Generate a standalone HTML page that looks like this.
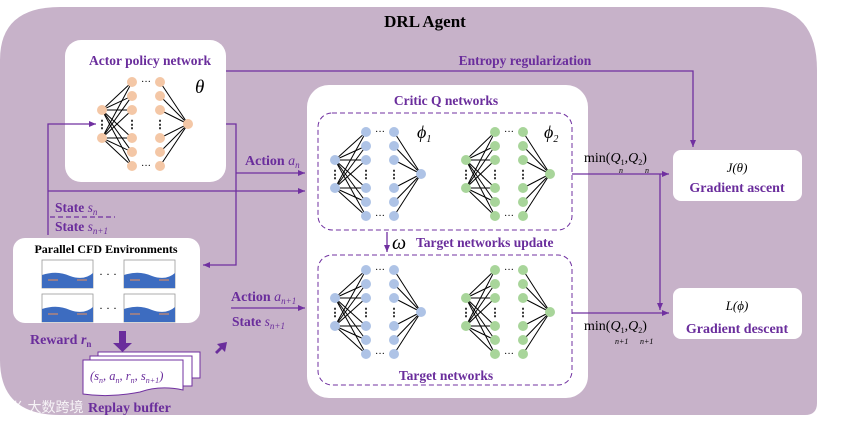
<!DOCTYPE html>
<html><head><meta charset="utf-8"><style>
body{margin:0;background:#fff;width:865px;height:424px;overflow:hidden}
svg{display:block}
text{font-family:"Liberation Serif",serif}
.p{fill:#6a2d9c;font-weight:bold}
</style></head><body>
<svg id="s" width="865" height="424" viewBox="0 0 865 424" xmlns="http://www.w3.org/2000/svg">
<defs><marker id="a" markerWidth="8" markerHeight="8" refX="7" refY="4" orient="auto" markerUnits="userSpaceOnUse"><path d="M0,1 L7,4 L0,7 z" fill="#7030a0"/></marker></defs>
<path d="M60,7 H760 Q817,7 817,70 V403 Q817,415 805,415 H60 Q0,415 0,360 V60 Q0,7 60,7 Z" fill="#c7b2c9"/>
<text x="425" y="27" text-anchor="middle" font-size="17" font-weight="bold">DRL Agent</text>
<rect x="65" y="40" width="161" height="142" rx="16" fill="#fff"/>
<rect x="307" y="85" width="281" height="313" rx="22" fill="#fff"/>
<rect x="318" y="113" width="254" height="117" rx="14" fill="none" stroke="#7030a0" stroke-dasharray="5,3"/>
<rect x="318" y="255" width="254" height="130" rx="14" fill="none" stroke="#7030a0" stroke-dasharray="5,3"/>
<rect x="13" y="238" width="187" height="85" rx="12" fill="#fff"/>
<rect x="673" y="150" width="129" height="51" rx="8" fill="#fff"/>
<rect x="673" y="288" width="129" height="51" rx="8" fill="#fff"/>
<g id="nets"></g>
<g stroke="#7030a0" stroke-width="1.3" fill="none">
<path d="M226,71 H693 V147" marker-end="url(#a)"/>
<path d="M48,235 V124 H96" marker-end="url(#a)"/>
<path d="M226,124 H236 V265 H203" marker-end="url(#a)"/>
<path d="M236,173 H305" marker-end="url(#a)"/>
<path d="M48,191 H305" marker-end="url(#a)"/>
<path d="M50,217 H115" stroke-dasharray="5,3"/>
<path d="M231,308 H305" marker-end="url(#a)"/>
<path d="M572,174 H669" marker-end="url(#a)"/>
<path d="M572,313 H669" marker-end="url(#a)"/>
<path d="M660,174 V310" marker-end="url(#a)"/>
<path d="M387,232 V252" marker-end="url(#a)"/>
</g>
<text x="150" y="65" text-anchor="middle" font-size="13.5" class="p">Actor policy network</text>
<text x="195" y="93" font-size="19" font-style="italic">θ</text>
<text x="525" y="65" text-anchor="middle" font-size="13.5" class="p">Entropy regularization</text>
<text x="446" y="105" text-anchor="middle" font-size="13.5" class="p">Critic Q networks</text>
<text x="417" y="138" font-size="18" font-style="italic">ϕ<tspan font-size="10" dy="4">1</tspan></text>
<text x="544" y="138" font-size="18" font-style="italic">ϕ<tspan font-size="10" dy="4">2</tspan></text>
<text x="392" y="249" font-size="20" font-style="italic">ω</text>
<text x="416" y="247" font-size="13.5" class="p">Target networks update</text>
<text x="446" y="380" text-anchor="middle" font-size="13.5" class="p">Target networks</text>
<text x="245" y="165" font-size="14" class="p">Action <tspan font-style="italic" font-weight="normal">a</tspan><tspan font-size="9" dy="3" font-style="italic" font-weight="normal">n</tspan></text>
<text x="55" y="212" font-size="13.5" class="p">State <tspan font-style="italic" font-weight="normal">s</tspan><tspan font-size="9" dy="3" font-style="italic" font-weight="normal">n</tspan></text>
<text x="55" y="231" font-size="13.5" class="p">State <tspan font-style="italic" font-weight="normal">s</tspan><tspan font-size="9" dy="3" font-style="italic" font-weight="normal">n+1</tspan></text>
<text x="106" y="253" text-anchor="middle" font-size="12" font-weight="bold">Parallel CFD Environments</text>
<text x="231" y="301" font-size="14" class="p">Action <tspan font-style="italic" font-weight="normal">a</tspan><tspan font-size="9" dy="3" font-style="italic" font-weight="normal">n+1</tspan></text>
<text x="232" y="326" font-size="13.5" class="p">State <tspan font-style="italic" font-weight="normal">s</tspan><tspan font-size="9" dy="3" font-style="italic" font-weight="normal">n+1</tspan></text>
<text x="30" y="344" font-size="14" class="p">Reward <tspan font-style="italic">r</tspan><tspan font-size="9" dy="3">n</tspan></text>
<text x="584" y="162" font-size="14">min(<tspan font-style="italic">Q</tspan><tspan font-size="8" dy="3">1</tspan><tspan dy="-3">,</tspan><tspan font-style="italic">Q</tspan><tspan font-size="8" dy="3">2</tspan><tspan dy="-3">)</tspan></text>
<text x="619" y="173" font-size="8" font-style="italic">n</text><text x="645" y="173" font-size="8" font-style="italic">n</text>
<text x="584" y="330" font-size="14">min(<tspan font-style="italic">Q</tspan><tspan font-size="8" dy="3">1</tspan><tspan dy="-3">,</tspan><tspan font-style="italic">Q</tspan><tspan font-size="8" dy="3">2</tspan><tspan dy="-3">)</tspan></text>
<text x="615" y="344" font-size="8" font-style="italic">n+1</text><text x="640" y="344" font-size="8" font-style="italic">n+1</text>
<text x="737" y="172" text-anchor="middle" font-size="13" font-style="italic">J(θ)</text>
<text x="737" y="192" text-anchor="middle" font-size="14" class="p">Gradient ascent</text>
<text x="737" y="310" text-anchor="middle" font-size="13" font-style="italic">L(ϕ)</text>
<text x="737" y="333" text-anchor="middle" font-size="14" class="p">Gradient descent</text>
<g fill="#6a2d9c">
<path d="M119,331 h7 v12 h6 l-9.5,9 l-9.5,-9 h6 z"/>
<path d="M215,352 l5,-5 l-3,-3 l10,-2 l-2,10 l-3,-3 l-5,5 z"/>
</g>
<g stroke="#7030a0" stroke-width="1" fill="#fff">
<path d="M98,352 H200 V378 H98 Z"/>
<path d="M90,356 H192 V386 H90 Z"/>
<path d="M83,360 H183 V390 Q160,385 140,392 Q110,398 83,394 Z"/>
</g>
<text x="90" y="380" font-size="12.5" fill="#6a2d9c" font-style="italic">(s<tspan font-size="8" dy="3">n</tspan><tspan dy="-3">, a</tspan><tspan font-size="8" dy="3">n</tspan><tspan dy="-3">, r</tspan><tspan font-size="8" dy="3">n</tspan><tspan dy="-3">, s</tspan><tspan font-size="8" dy="3">n+1</tspan><tspan dy="-3">)</tspan></text>
<text x="88" y="412" font-size="14" class="p">Replay buffer</text>
<text x="10" y="412" font-size="14" fill="#fff" opacity="0.85" font-family="Noto Sans CJK SC,sans-serif">ㄍ 大数跨境</text>
<g id="cfd"></g>
<text x="108" y="278" text-anchor="middle" font-size="12">· · ·</text>
<text x="108" y="312" text-anchor="middle" font-size="12">· · ·</text>
</svg>
<script>
var NS="http://www.w3.org/2000/svg";
function el(p,t,a){var e=document.createElementNS(NS,t);for(var k in a)e.setAttribute(k,a[k]);p.appendChild(e);return e;}
var g=document.getElementById('nets');
function net(ix,l1,l2,ox,y0,col){
 var ys=[0,14,28,56,70,84].map(function(v){return y0+v});
 var inY=[y0+28,y0+56], oy=y0+42;
 inY.forEach(function(iy){ys.forEach(function(y){el(g,'line',{x1:ix,y1:iy,x2:l1,y2:y,stroke:'#000','stroke-width':1})})});
 ys.forEach(function(y){el(g,'line',{x1:l2,y1:y,x2:ox,y2:oy,stroke:'#000','stroke-width':1})});
 inY.forEach(function(y){el(g,'circle',{cx:ix,cy:y,r:5,fill:col})});
 ys.forEach(function(y){el(g,'circle',{cx:l1,cy:y,r:5,fill:col});el(g,'circle',{cx:l2,cy:y,r:5,fill:col})});
 el(g,'circle',{cx:ox,cy:oy,r:5,fill:col});
 [[ix,y0+42],[l1,y0+42],[l2,y0+42]].forEach(function(p){var t=el(g,'text',{x:p[0],y:p[1]+4,'text-anchor':'middle','font-size':11,'font-weight':'bold'});t.textContent='⋮';});
 [[ (l1+l2)/2,y0+3],[(l1+l2)/2,y0+87]].forEach(function(p){var t=el(g,'text',{x:p[0],y:p[1],'text-anchor':'middle','font-size':10});t.textContent='···';});
}
net(102,132,160,188,82,'#f4c7a6');
net(335,366,394,421,132,'#aec3e6');
net(466,495,523,550,132,'#a8d59a');
net(335,366,394,421,270,'#aec3e6');
net(466,495,523,550,270,'#a8d59a');
var c=document.getElementById('cfd');
[[42,260],[124,260],[42,294],[124,294]].forEach(function(p){
 var x=p[0],y=p[1];
 el(c,'rect',{x:x,y:y,width:51,height:28,fill:'#fff',stroke:'#999','stroke-width':0.8});
 el(c,'path',{d:'M'+x+','+(y+15)+' Q'+(x+15)+','+(y+10)+' '+(x+28)+','+(y+16)+' Q'+(x+42)+','+(y+21)+' '+(x+51)+','+(y+13)+' V'+(y+28)+' H'+x+' Z',fill:'#3d6cc0'});
 el(c,'line',{x1:x+6,y1:y+20,x2:x+16,y2:y+20,stroke:'#d08a6a','stroke-width':1.2});
 el(c,'line',{x1:x+35,y1:y+20,x2:x+45,y2:y+20,stroke:'#d08a6a','stroke-width':1.2});
});
</script>
</body></html>
